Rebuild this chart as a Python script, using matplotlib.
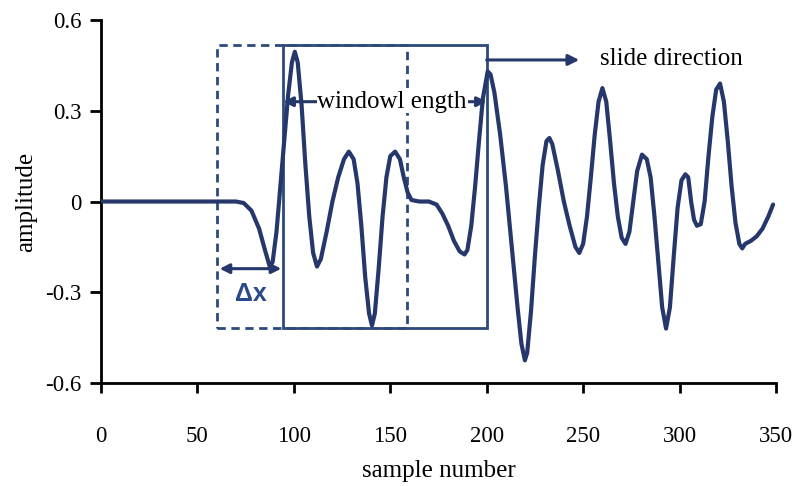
import matplotlib
matplotlib.use("Agg")
import matplotlib.pyplot as plt
from matplotlib.patches import Rectangle

# Seismic-like trace: sample number vs amplitude
sample = [0, 70, 74, 78, 82, 85, 87.5, 89, 91, 93, 95, 97, 99, 100.5, 102, 104, 106, 108,
          110, 112, 114, 117, 120, 123, 126, 128.5, 131, 133, 135, 137, 139, 140.5, 142,
          144, 146, 148, 150, 152.5, 155, 157, 159, 161, 165, 170, 174, 177, 180, 183,
          186, 188.5, 190, 192, 194, 196, 198, 200.5, 202, 204, 207, 210, 213, 216, 218,
          219.8, 221, 223, 225, 227, 229, 231, 232.5, 234, 237, 240, 243, 246, 248, 250,
          252, 254, 256, 258, 260, 262, 264, 266, 268, 270, 272, 274, 276, 278, 280.5,
          283, 285, 287, 289, 291, 293, 295, 297, 299, 301, 303, 304.5, 306, 307.5, 309,
          311, 313, 315, 317, 319, 321, 323, 325, 327, 329, 331, 332.5, 334, 337, 340,
          343, 346, 348.5]
amplitude = [0, 0, -0.005, -0.03, -0.09, -0.16, -0.215, -0.2, -0.1, 0.05, 0.2, 0.35, 0.46,
             0.495, 0.46, 0.32, 0.12, -0.05, -0.17, -0.215, -0.19, -0.1, 0.0, 0.08, 0.14,
             0.165, 0.14, 0.06, -0.08, -0.25, -0.37, -0.41, -0.37, -0.22, -0.05, 0.08, 0.15,
             0.165, 0.14, 0.08, 0.03, 0.005, 0.0, 0.0, -0.01, -0.04, -0.08, -0.13, -0.165,
             -0.175, -0.16, -0.08, 0.05, 0.2, 0.34, 0.43, 0.42, 0.36, 0.22, 0.05, -0.15,
             -0.35, -0.47, -0.525, -0.5, -0.36, -0.18, -0.02, 0.12, 0.2, 0.21, 0.19, 0.1,
             0.0, -0.08, -0.15, -0.17, -0.14, -0.05, 0.08, 0.22, 0.33, 0.375, 0.33, 0.2,
             0.06, -0.05, -0.12, -0.14, -0.1, 0.0, 0.1, 0.155, 0.14, 0.08, -0.05, -0.2,
             -0.35, -0.42, -0.35, -0.18, -0.02, 0.07, 0.09, 0.08, 0.0, -0.06, -0.08, -0.075,
             0.0, 0.15, 0.28, 0.37, 0.39, 0.33, 0.2, 0.05, -0.07, -0.14, -0.155, -0.14,
             -0.13, -0.115, -0.09, -0.05, -0.01]

x_ticks = [0, 50, 100, 150, 200, 250, 300, 350]
x_tick_labels = ["0", "50", "100", "150", "200", "250", "300", "350"]
y_ticks = [-0.6, -0.3, 0, 0.3, 0.6]
y_tick_labels = ["-0.6", "-0.3", "0", "0.3", "0.6"]

# Window positions (samples) and vertical extent
prev_window = (60.3, 158.6)
curr_window = (94.5, 200.0)
window_y = (-0.419, 0.516)

line_color = "#26386b"
box_color = "#2c4a7c"
serif = ["Liberation Serif", "DejaVu Serif"]

fig = plt.figure(figsize=(7.94, 4.86), dpi=100)
ax = fig.add_axes([0.1272, 0.2119, 0.8501, 0.7469])

ax.plot(sample, amplitude, color=line_color, lw=3.0, solid_joinstyle="round",
        solid_capstyle="round", zorder=3)

# Previous window (dashed) and current window (solid)
ax.add_patch(Rectangle((prev_window[0], window_y[0]), prev_window[1] - prev_window[0],
                       window_y[1] - window_y[0], fill=False, ec=box_color, lw=2.0,
                       ls=(0, (3, 2)), zorder=2))
ax.add_patch(Rectangle((curr_window[0], window_y[0]), curr_window[1] - curr_window[0],
                       window_y[1] - window_y[0], fill=False, ec=box_color, lw=2.0,
                       zorder=2))

# Window length arrow
ax.annotate("", xy=(curr_window[0], 0.33), xytext=(curr_window[1], 0.33),
            arrowprops=dict(arrowstyle="<|-|>", color=line_color, lw=2.2,
                            mutation_scale=14, shrinkA=0, shrinkB=0), zorder=4)
ax.text(151, 0.33, "windowl ength", family=serif, fontsize=18, ha="center", va="center",
        bbox=dict(fc="white", ec="none", pad=0.5), zorder=5)

# Slide direction arrow
ax.annotate("", xy=(248, 0.468), xytext=(curr_window[1], 0.468),
            arrowprops=dict(arrowstyle="-|>", color=line_color, lw=2.2,
                            mutation_scale=16, shrinkA=0, shrinkB=0), zorder=4)
ax.text(258.5, 0.47, "slide direction", family=serif, fontsize=18, ha="left",
        va="center")

# Offset between windows
ax.annotate("", xy=(61.5, -0.222), xytext=(93.5, -0.222),
            arrowprops=dict(arrowstyle="<|-|>", color=line_color, lw=2.2,
                            mutation_scale=14, shrinkA=0, shrinkB=0), zorder=4)
ax.text(77.5, -0.305, "\u0394x", fontsize=18, fontweight="bold", color="#2b4a8c",
        ha="center", va="center", family=["Liberation Sans", "DejaVu Sans"])

ax.set_xlim(0, 350)
ax.set_ylim(-0.6, 0.6)
ax.set_xticks(x_ticks)
ax.set_xticklabels(x_tick_labels, family=serif, fontsize=16.5)
ax.set_yticks(y_ticks)
ax.set_yticklabels(y_tick_labels, family=serif, fontsize=16.5)
ax.tick_params(axis="x", direction="out", length=7, width=2, pad=24, color="black")
ax.tick_params(axis="y", direction="out", length=8, width=2, pad=6, color="black")

for side in ("top", "right"):
    ax.spines[side].set_visible(False)
for side in ("left", "bottom"):
    ax.spines[side].set_linewidth(2)
    ax.spines[side].set_color("black")

ax.set_xlabel("sample number", family=serif, fontsize=18, labelpad=9)
ax.set_ylabel("amplitude", family=serif, fontsize=18, labelpad=6)

fig.savefig("out.png", dpi=100)
